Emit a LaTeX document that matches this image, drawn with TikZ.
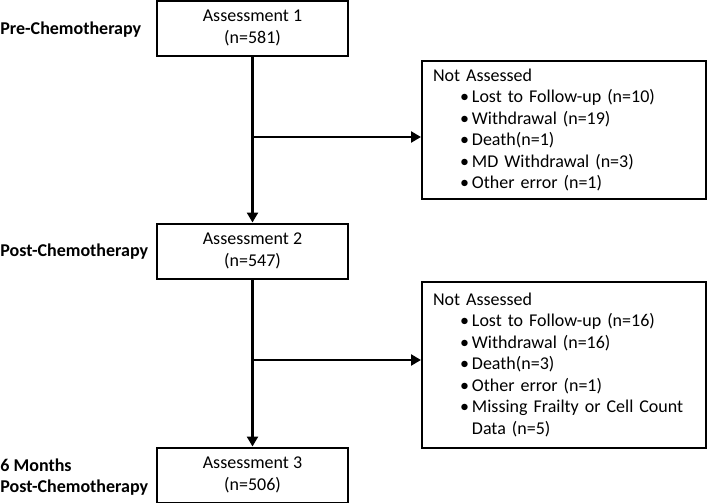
\documentclass[tikz,border=0pt]{standalone}
\usepackage{fontspec}
\setmainfont{Carlito}
\usetikzlibrary{arrows.meta}
\newcommand{\nitem}[1]{\hspace*{13.5pt}\textbullet\hspace{1.5pt}#1}

\begin{document}
\begin{tikzpicture}[x=0.5pt,y=-0.5pt,
  every node/.style={font=\fontsize{9}{10.75}\selectfont},
  stage/.style={anchor=west, inner sep=0pt, align=left, font=\fontsize{9}{10.75}\selectfont\bfseries},
  abox/.style={draw, line width=1pt, minimum width=95.5pt, minimum height=27.5pt, inner sep=0pt, align=center},
  nabox/.style={draw, line width=1pt, anchor=north west, text width=131pt, inner xsep=5.5pt, inner ysep=4pt, align=left},
  arr/.style={line width=1.3pt, -{Triangle[length=5pt,width=5.5pt]}}]

\useasboundingbox (0,0) rectangle (709,503);

% stages
\node[stage] (s1) at (0, 30) {Pre-Chemotherapy};
\node[stage] (s2) at (0, 252) {Post-Chemotherapy};
\node[stage] (s3) at (0, 477) {6 Months\\Post-Chemotherapy};

% assessments
\node[abox] (a1) at (252.5, 28) {Assessment 1\\(n=581)};
\node[abox] (a2) at (252.5, 251) {Assessment 2\\(n=547)};
\node[abox] (a3) at (252.5, 475) {Assessment 3\\(n=506)};

% not assessed
\node[nabox] (na1) at (421, 60) {Not Assessed\\
  \nitem{Lost to Follow-up (n=10)}\\
  \nitem{Withdrawal (n=19)}\\
  \nitem{Death(n=1)}\\
  \nitem{MD Withdrawal (n=3)}\\
  \nitem{Other error (n=1)}};
\node[nabox, inner ysep=5.5pt] (na2) at (421, 281) {Not Assessed\\
  \nitem{Lost to Follow-up (n=16)}\\
  \nitem{Withdrawal (n=16)}\\
  \nitem{Death(n=3)}\\
  \nitem{Other error (n=1)}\\
  \nitem{Missing Frailty or Cell Count}\\
  \hspace*{13.5pt}\phantom{\textbullet}\hspace{1.5pt}Data (n=5)};

\coordinate (b1) at (a1.south |- 0, 137);
\coordinate (b2) at (a2.south |- 0, 360);

\draw[arr] (a1) -- (a2);
\draw[arr] (a2) -- (a3);
\draw[arr] (b1) -- (b1 -| na1.west);
\draw[arr] (b2) -- (b2 -| na2.west);

\end{tikzpicture}
\end{document}
